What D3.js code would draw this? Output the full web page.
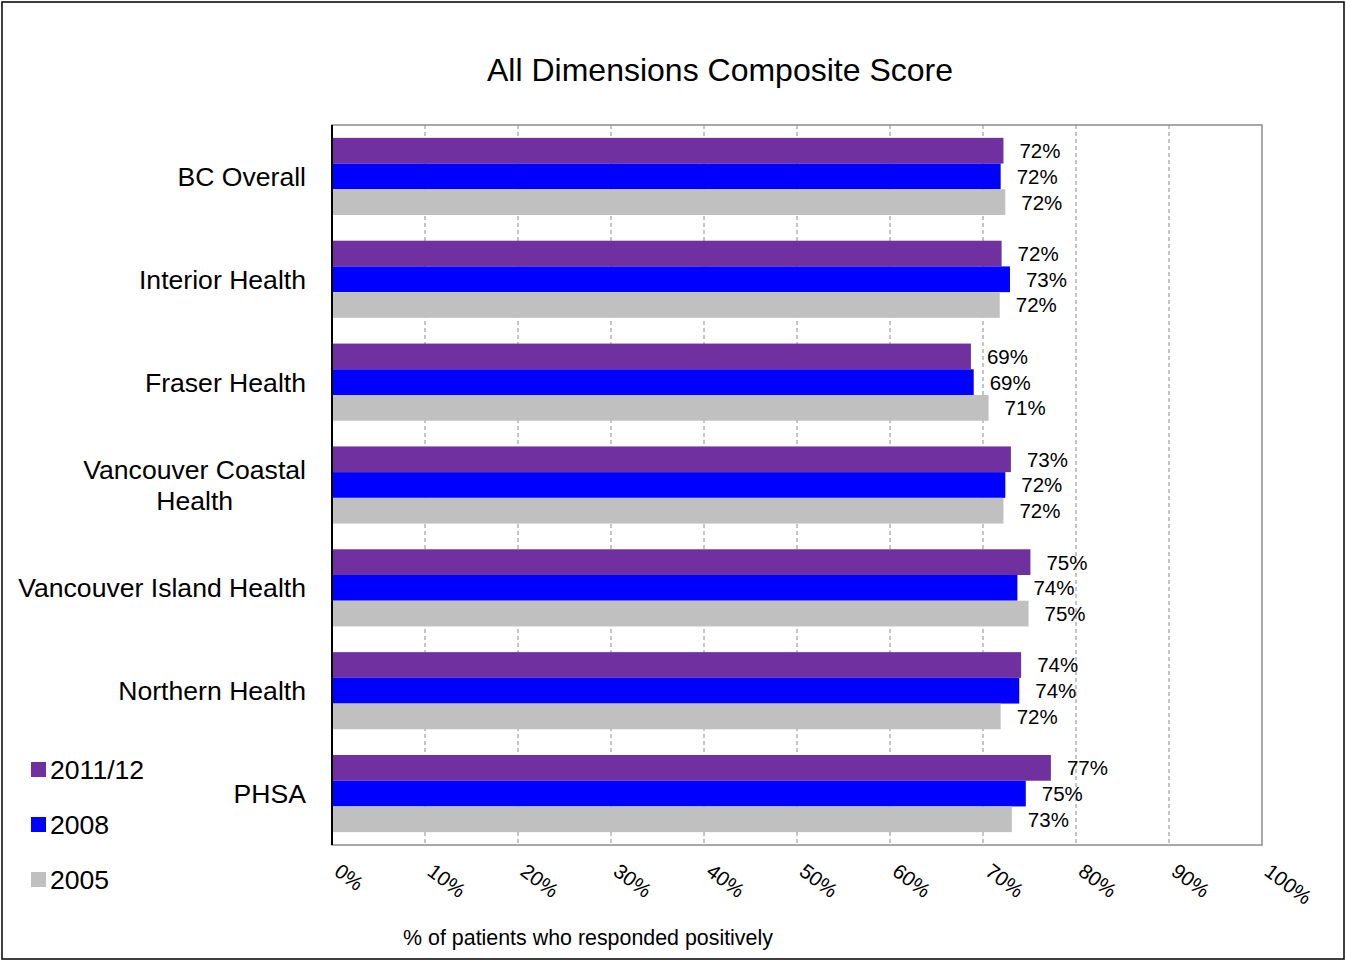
<!DOCTYPE html>
<html><head><meta charset="utf-8">
<script src="https://cdn.jsdelivr.net/npm/d3@7"></script>
<style>body{margin:0;background:#fff}svg{display:block;font-family:"Liberation Sans",Arial,sans-serif}</style>
</head><body>
<svg id="c" width="1346" height="962"></svg>
<script>
const categories = ["BC Overall","Interior Health","Fraser Health","Vancouver Coastal Health","Vancouver Island Health","Northern Health","PHSA"];
const seriesNames = ["2011/12","2008","2005"];
const values2011 = [72.2, 72.0, 68.7, 73.0, 75.1, 74.1, 77.3];
const values2008 = [71.9, 72.9, 69.0, 72.4, 73.7, 73.9, 74.6];
const values2005 = [72.4, 71.8, 70.6, 72.2, 74.9, 71.9, 73.1];
const xTicks = [0,10,20,30,40,50,60,70,80,90,100];
const colors = ["#7030A0","#0000FF","#C0C0C0"];
const title = "All Dimensions Composite Score";
const xTitle = "% of patients who responded positively";

const series = [values2011, values2008, values2005];
const svg = d3.select("#c");
const L = 332, R = 1262, T = 125, B = 845;

svg.append("rect").attr("x",2).attr("y",2).attr("width",1342).attr("height",957)
  .attr("fill","#fff").attr("stroke","#000").attr("stroke-width",1.5);

const x = d3.scaleLinear().domain([0,100]).range([L,R]);
const y = d3.scaleBand().domain(categories).range([T,B]).paddingInner(0.25).paddingOuter(0.125);
const ys = d3.scaleBand().domain(seriesNames).range([0,y.bandwidth()]);

// gridlines
svg.append("g").selectAll("line").data(xTicks.filter(t=>t>0&&t<100)).join("line")
  .attr("x1",d=>x(d)).attr("x2",d=>x(d)).attr("y1",T).attr("y2",B)
  .attr("stroke","#8c8c8c").attr("stroke-width",1).attr("stroke-dasharray","4,3");

// plot frame
svg.append("rect").attr("x",L).attr("y",T).attr("width",R-L).attr("height",B-T)
  .attr("fill","none").attr("stroke","#8c8c8c").attr("stroke-width",1.5);

// bars
const g = svg.append("g");
categories.forEach((c,i)=>{
  seriesNames.forEach((s,j)=>{
    const v = series[j][i];
    g.append("rect").attr("x",x(0)).attr("y",y(c)+ys(s)).attr("width",x(v)-x(0)).attr("height",ys.bandwidth())
      .attr("fill",colors[j]);
    g.append("text").attr("x",x(v)+16).attr("y",y(c)+ys(s)+ys.bandwidth()/2).attr("dy","0.36em")
      .attr("font-size",20.5).attr("fill","#000").text(Math.round(v)+"%");
  });
});

// left axis line
svg.append("line").attr("x1",L).attr("x2",L).attr("y1",T).attr("y2",B).attr("stroke","#000").attr("stroke-width",2);

// category labels
categories.forEach(c=>{
  const cy = y(c)+y.bandwidth()/2;
  const lines = c==="Vancouver Coastal Health" ? ["Vancouver Coastal","Health"] : [c];
  const t = svg.append("text").attr("text-anchor","middle").attr("font-size",26.6).attr("fill","#000");
  const lh = 31;
  lines.forEach((ln,k)=>{
    t.append("tspan").attr("x",0).attr("y",cy + (k-(lines.length-1)/2)*lh).attr("dy","0.36em").text(ln);
  });
  const bb = t.node().getBBox();
  t.attr("transform",`translate(${306 - bb.width/2},0)`);
});

// x tick labels
svg.append("g").selectAll("text").data(xTicks).join("text")
  .attr("transform",d=>`translate(${x(d)+1},${874}) rotate(37)`)
  .attr("font-size",20.5).attr("fill","#000").text(d=>d+"%");

// titles
svg.append("text").attr("x",720).attr("y",81).attr("text-anchor","middle").attr("font-size",32).text(title);
svg.append("text").attr("x",588).attr("y",945).attr("text-anchor","middle").attr("font-size",21.4).text(xTitle);

// legend
seriesNames.forEach((s,j)=>{
  const ly = 769 + j*55;
  svg.append("rect").attr("x",31).attr("y",ly-7).attr("width",15).attr("height",15).attr("fill",colors[j]);
  svg.append("text").attr("x",50).attr("y",ly).attr("dy","0.36em").attr("font-size",26.6).text(s);
});
</script>
</body></html>
